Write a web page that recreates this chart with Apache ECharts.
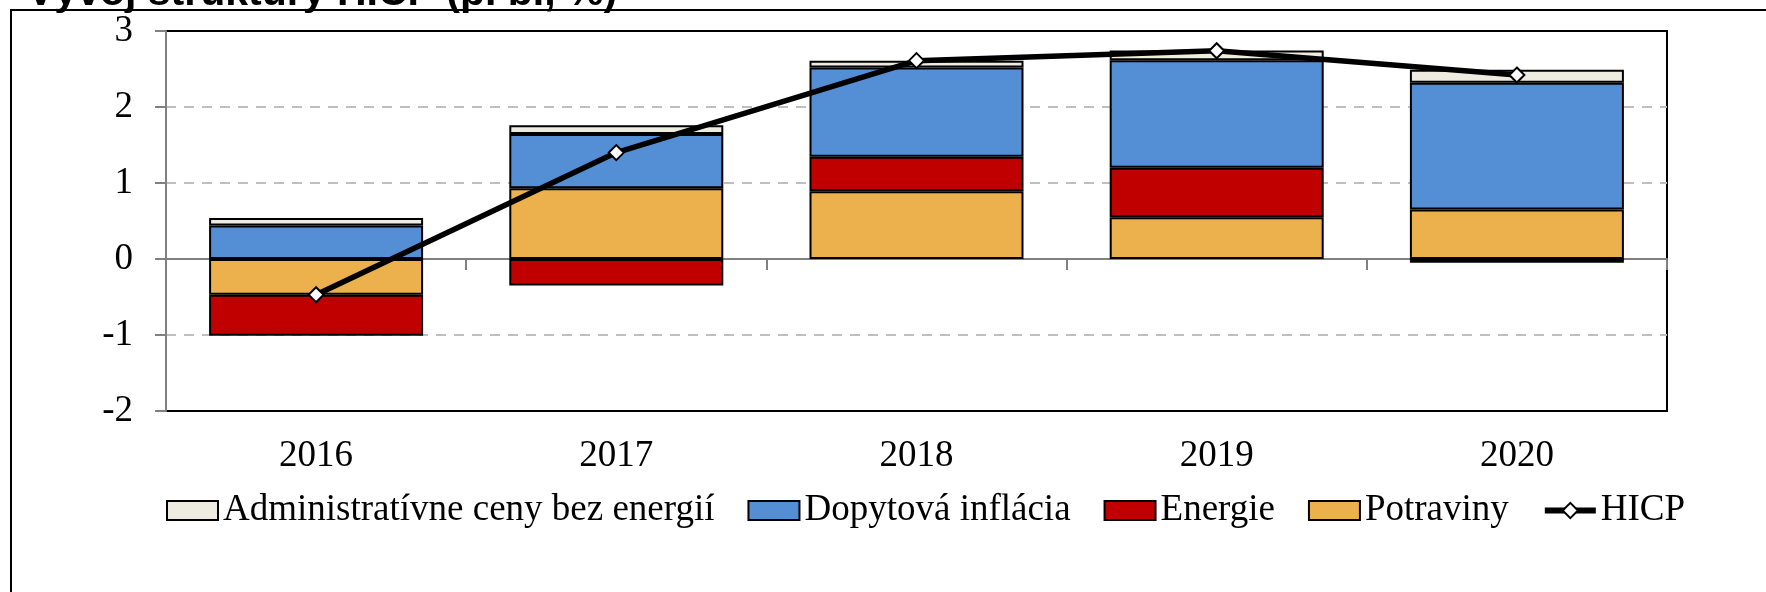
<!DOCTYPE html>
<html>
<head>
<meta charset="utf-8">
<script src="https://cdn.jsdelivr.net/npm/echarts@6/dist/echarts.min.js"></script>
<style>
  html, body { margin: 0; padding: 0; background: #fff; }
  #chart { width: 1766px; height: 592px; }
</style>
</head>
<body>
<div id="chart"></div>
<script>
// Data (p. b., %)
const years = ['2016', '2017', '2018', '2019', '2020'];
const potraviny = [-0.47, 0.93, 0.89, 0.55, 0.65];
const energie = [-0.54, -0.35, 0.455, 0.65, -0.05];
const dopytova = [0.44, 0.715, 1.175, 1.415, 1.67];
const administrativne = [0.10, 0.115, 0.09, 0.13, 0.17];
const hicp = [-0.47, 1.40, 2.61, 2.74, 2.42];

const serif = 'Liberation Serif, Times New Roman, serif';

const chart = echarts.init(document.getElementById('chart'));

// shared bar style
const barStyle = (color) => ({ color: color, borderColor: '#000', borderWidth: 2 });

const option = {
  animation: false,
  title: {
    text: 'Vývoj štruktúry HICP (p. b., %)',
    left: 27,
    top: -27,
    padding: 0,
    textStyle: { fontFamily: 'Liberation Sans, Arial, sans-serif', fontWeight: 'bold', fontSize: 41, color: '#000' }
  },
  graphic: [
    {
      type: 'rect',
      shape: { x: 11, y: 10, width: 1900, height: 800 },
      style: { fill: 'none', stroke: '#000', lineWidth: 2 },
      z: -1
    }
  ],
  grid: {
    left: 166, right: 99, top: 31, bottom: 181,
    show: true, borderColor: '#000', borderWidth: 2, backgroundColor: 'transparent'
  },
  legend: {
    left: 166,
    top: 492,
    padding: 0,
    itemWidth: 51,
    itemHeight: 19,
    itemGap: 33,
    textStyle: { fontFamily: serif, fontSize: 37, color: '#000' },
    data: [
      { name: 'Administratívne ceny bez energií', icon: 'rect' },
      { name: 'Dopytová inflácia', icon: 'rect' },
      { name: 'Energie', icon: 'rect' },
      { name: 'Potraviny', icon: 'rect' },
      { name: 'HICP', lineStyle: { width: 6, color: '#000' } }
    ]
  },
  xAxis: [
    {
      type: 'category',
      data: years,
      axisLine: { onZero: true, lineStyle: { color: '#808080', width: 2 } },
      axisTick: { show: true, length: 11, lineStyle: { color: '#808080', width: 2 } },
      axisLabel: { show: false }
    },
    {
      type: 'category',
      data: years,
      position: 'bottom',
      axisLine: { show: false, onZero: false },
      axisTick: { show: false },
      axisLabel: { margin: 27, fontFamily: serif, fontSize: 37, color: '#000' }
    }
  ],
  yAxis: {
    type: 'value',
    min: -2,
    max: 3,
    interval: 1,
    axisLine: { show: true, lineStyle: { color: '#808080', width: 2 } },
    axisTick: { show: true, length: 11, lineStyle: { color: '#808080', width: 2 } },
    axisLabel: { margin: 33, fontFamily: serif, fontSize: 37, color: '#000' },
    splitLine: {
      show: true,
      showMinLine: false,
      showMaxLine: false,
      lineStyle: { color: '#BFBFBF', width: 2, type: [10, 8] }
    }
  },
  series: [
    {
      name: 'Potraviny', type: 'bar', stack: 'hicp', barWidth: 214,
      data: potraviny, itemStyle: barStyle('#ECB04C')
    },
    {
      name: 'Energie', type: 'bar', stack: 'hicp', barWidth: 214,
      data: energie, itemStyle: barStyle('#C00000')
    },
    {
      name: 'Dopytová inflácia', type: 'bar', stack: 'hicp', barWidth: 214,
      data: dopytova, itemStyle: barStyle('#548ED5')
    },
    {
      name: 'Administratívne ceny bez energií', type: 'bar', stack: 'hicp', barWidth: 214,
      data: administrativne, itemStyle: barStyle('#EEECE1')
    },
    {
      name: 'HICP', type: 'line', data: hicp, z: 5,
      symbol: 'diamond', symbolSize: 15,
      lineStyle: { color: '#000', width: 5.5 },
      itemStyle: { color: '#fff', borderColor: '#000', borderWidth: 2 }
    }
  ]
};

chart.setOption(option);
</script>
</body>
</html>
